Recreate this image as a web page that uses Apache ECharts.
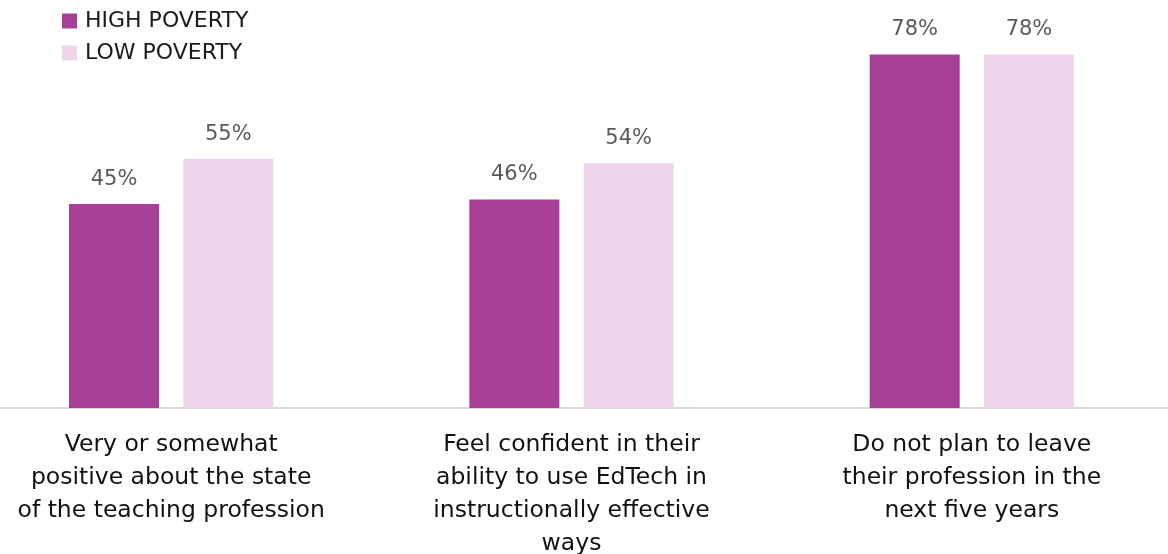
<!DOCTYPE html>
<html>
<head>
<meta charset="utf-8">
<script src="https://cdn.jsdelivr.net/npm/echarts@6/dist/echarts.min.js"></script>
<style>
  html, body { margin: 0; padding: 0; background: #fff; }
  #chart { width: 1168px; height: 554px; }
</style>
</head>
<body>
<div id="chart"></div>
<script>
// Survey statements (line breaks as laid out under each group)
const categories = [
  'Very or somewhat\npositive about the state\nof the teaching profession',
  'Feel confident in their\nability to use EdTech in\ninstructionally effective\nways',
  'Do not plan to leave\ntheir profession in the\nnext five years'
];
const seriesNames = ['HIGH POVERTY', 'LOW POVERTY'];
const highPoverty = [45, 46, 78];
const lowPoverty = [55, 54, 78];

const FONT = '"DejaVu Sans", sans-serif';
const colors = ['#A83F96', '#EFD5EC'];

const chart = echarts.init(document.getElementById('chart'));

const labelStyle = {
  show: true,
  position: 'top',
  distance: 14,
  formatter: p => p.value + '%',
  color: '#595959',
  fontSize: 21,
  fontFamily: FONT
};

chart.setOption({
  animation: false,
  color: colors,
  legend: {
    orient: 'vertical',
    left: 57,
    top: 4,
    itemWidth: 15,
    itemHeight: 15,
    itemGap: 8,
    icon: 'rect',
    textStyle: { fontSize: 22, lineHeight: 24, color: '#1a1a1a', fontFamily: FONT, padding: [0, 0, 0, 3] },
    data: seriesNames
  },
  grid: { left: -29, right: -4, top: 0, bottom: 146, outerBoundsMode: 'none', containLabel: false },
  xAxis: {
    type: 'category',
    data: categories,
    axisLine: { show: true, lineStyle: { color: '#D9D9D9', width: 2 } },
    axisTick: { show: false },
    axisLabel: {
      interval: 0,
      margin: 20,
      color: '#111',
      fontSize: 23.5,
      lineHeight: 33,
      fontFamily: FONT
    }
  },
  yAxis: {
    type: 'value',
    min: 0,
    max: 90,
    show: false,
    splitLine: { show: false }
  },
  series: [
    {
      name: seriesNames[0],
      type: 'bar',
      data: highPoverty,
      barWidth: 90,
      barGap: '27%',
      label: labelStyle
    },
    {
      name: seriesNames[1],
      type: 'bar',
      data: lowPoverty,
      barWidth: 90,
      label: labelStyle
    }
  ]
});
</script>
</body>
</html>
